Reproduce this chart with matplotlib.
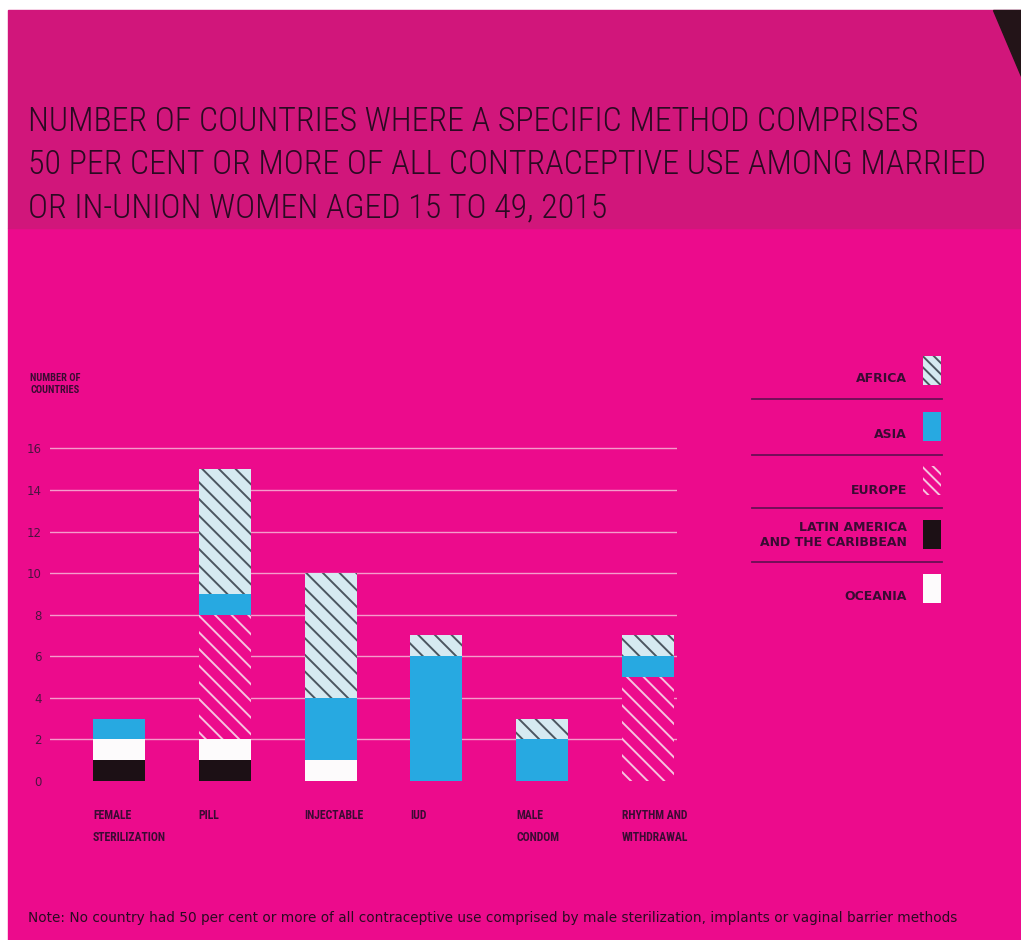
import matplotlib.pyplot as plt
from matplotlib import font_manager
from matplotlib.patches import Rectangle, Polygon
from matplotlib.lines import Line2D

# data: number of countries per method, stacked by region
methods = ['FEMALE\nSTERILIZATION', 'PILL', 'INJECTABLE', 'IUD', 'MALE\nCONDOM', 'RHYTHM AND\nWITHDRAWAL']
latin_america = [1, 1, 0, 0, 0, 0]
oceania = [1, 1, 1, 0, 0, 0]
europe = [0, 6, 0, 0, 0, 5]
asia = [1, 1, 3, 6, 2, 1]
africa = [0, 6, 6, 1, 1, 1]
yticks = [0, 2, 4, 6, 8, 10, 12, 14, 16]

BG = '#ec0b8c'
HEAD = '#d1167b'
DARK = '#3a0b33'
BLUE = '#27a9e1'
AFR_FACE = '#d6eaf1'
AFR_LINE = '#4b5660'
EUR_LINE = '#f7c4df'
BLACK = '#1c1015'
WHITE = '#fdfbfc'

# pick a narrow face if one is installed
installed = {f.name for f in font_manager.fontManager.ttflist}
narrow = [f for f in ['Liberation Sans Narrow', 'DejaVu Sans Condensed', 'Roboto Condensed',
                      'Open Sans Condensed'] if f in installed] + ['DejaVu Sans']
plt.rcParams['hatch.linewidth'] = 1.4

W, H = 1021, 940
fig = plt.figure(figsize=(W / 100, H / 100), dpi=100)
fig.patch.set_facecolor('white')
renderer = fig.canvas.get_renderer()

def fx(px):
    return px / W

def fy(py):
    return 1 - py / H

def fit_width(txt, target_px):
    # shrink/grow a text so its width matches the target
    bb = txt.get_window_extent(renderer)
    txt.set_fontsize(txt.get_fontsize() * target_px / bb.width)

# background panels
fig.patches.append(Rectangle((fx(8), 0), 1 - fx(8), fy(228), transform=fig.transFigure,
                             color=BG, zorder=-5))
fig.patches.append(Rectangle((fx(8), fy(228)), 1 - fx(8), fy(10) - fy(228), transform=fig.transFigure,
                             color=HEAD, zorder=-5))
fig.patches.append(Polygon([(fx(993), fy(10)), (1, fy(10)), (1, fy(76))], closed=True,
                           transform=fig.transFigure, color='#231418', zorder=-4))

# title
title = ('NUMBER OF COUNTRIES WHERE A SPECIFIC METHOD COMPRISES\n'
         '50 PER CENT OR MORE OF ALL CONTRACEPTIVE USE AMONG MARRIED\n'
         'OR IN-UNION WOMEN AGED 15 TO 49, 2015')
t = fig.text(fx(28), fy(106), title, ha='left', va='top', fontsize=23, color='#2a0a22',
             family=narrow, fontweight='light', linespacing=1.45)
fit_width(t, 962)
if t.get_fontsize() < 22:
    t.set_linespacing(1.45 * 22 / t.get_fontsize())

# chart axes
ax = fig.add_axes([fx(50), fy(781), fx(677) - fx(50), fy(438) - fy(781)])
ax.set_facecolor('none')
x = list(range(len(methods)))
w = 0.49
bottom = [0] * len(methods)

def stack(vals, **kw):
    global bottom
    ax.bar(x, vals, w, bottom=bottom, linewidth=0, zorder=3, **kw)
    bottom = [b + v for b, v in zip(bottom, vals)]

stack(latin_america, color=BLACK)
stack(oceania, color=WHITE)
stack(europe, facecolor=BG, edgecolor=EUR_LINE, hatch='\\\\')
stack(asia, color=BLUE)
stack(africa, facecolor=AFR_FACE, edgecolor=AFR_LINE, hatch='\\\\')

ax.set_xlim(-0.652, 5.274)
ax.set_ylim(0, 16.5)
ax.set_yticks(yticks)
ax.set_xticks([])
for s in ax.spines.values():
    s.set_visible(False)
ax.tick_params(axis='y', length=0, pad=6, labelsize=8.5, labelcolor='#4a1440')
for v in yticks[1:]:
    ax.axhline(v, color='#f59ccb', linewidth=1, zorder=1)

for i, m in enumerate(methods):
    ax.text(i - w / 2, -1.35, m, ha='left', va='top', fontsize=8.5, fontweight='bold',
            color=DARK, family=narrow, linespacing=1.9, clip_on=False)

fig.text(fx(30), fy(373), 'NUMBER OF\nCOUNTRIES', ha='left', va='top', fontsize=7.5,
         fontweight='bold', color=DARK, family=narrow, linespacing=1.3)

# legend built by hand
legend_items = [
    ('AFRICA', dict(facecolor=AFR_FACE, edgecolor=AFR_LINE, hatch='\\\\\\')),
    ('ASIA', dict(facecolor=BLUE, edgecolor=BLUE)),
    ('EUROPE', dict(facecolor=BG, edgecolor=EUR_LINE, hatch='\\\\\\')),
    ('LATIN AMERICA\nAND THE CARIBBEAN', dict(facecolor=BLACK, edgecolor=BLACK)),
    ('OCEANIA', dict(facecolor=WHITE, edgecolor=WHITE)),
]
swatch_top = [356, 412, 466, 520, 574]
label_y = [379, 435, 490, 535, 597]
sep_y = [399, 455, 508, 562]
for (lab, st), top, ly in zip(legend_items, swatch_top, label_y):
    fig.patches.append(Rectangle((fx(923), fy(top + 29)), fx(18), fy(top) - fy(top + 29),
                                 transform=fig.transFigure, linewidth=0, zorder=3, **st))
    fig.text(fx(907), fy(ly), lab, ha='right', va='center', fontsize=9, fontweight='bold',
             color=DARK, linespacing=1.25, multialignment='right')
for sy in sep_y:
    fig.lines.append(Line2D([fx(752), fx(942)], [fy(sy), fy(sy)], transform=fig.transFigure,
                            color='#6a0f55', linewidth=1.3))

note = fig.text(fx(28), fy(918), 'Note: No country had 50 per cent or more of all contraceptive use comprised by '
                'male sterilization, implants or vaginal barrier methods', ha='left', va='center',
                fontsize=8, color='#2a0a22')
fit_width(note, 930)

fig.savefig('out.png', dpi=100, facecolor=fig.get_facecolor())
